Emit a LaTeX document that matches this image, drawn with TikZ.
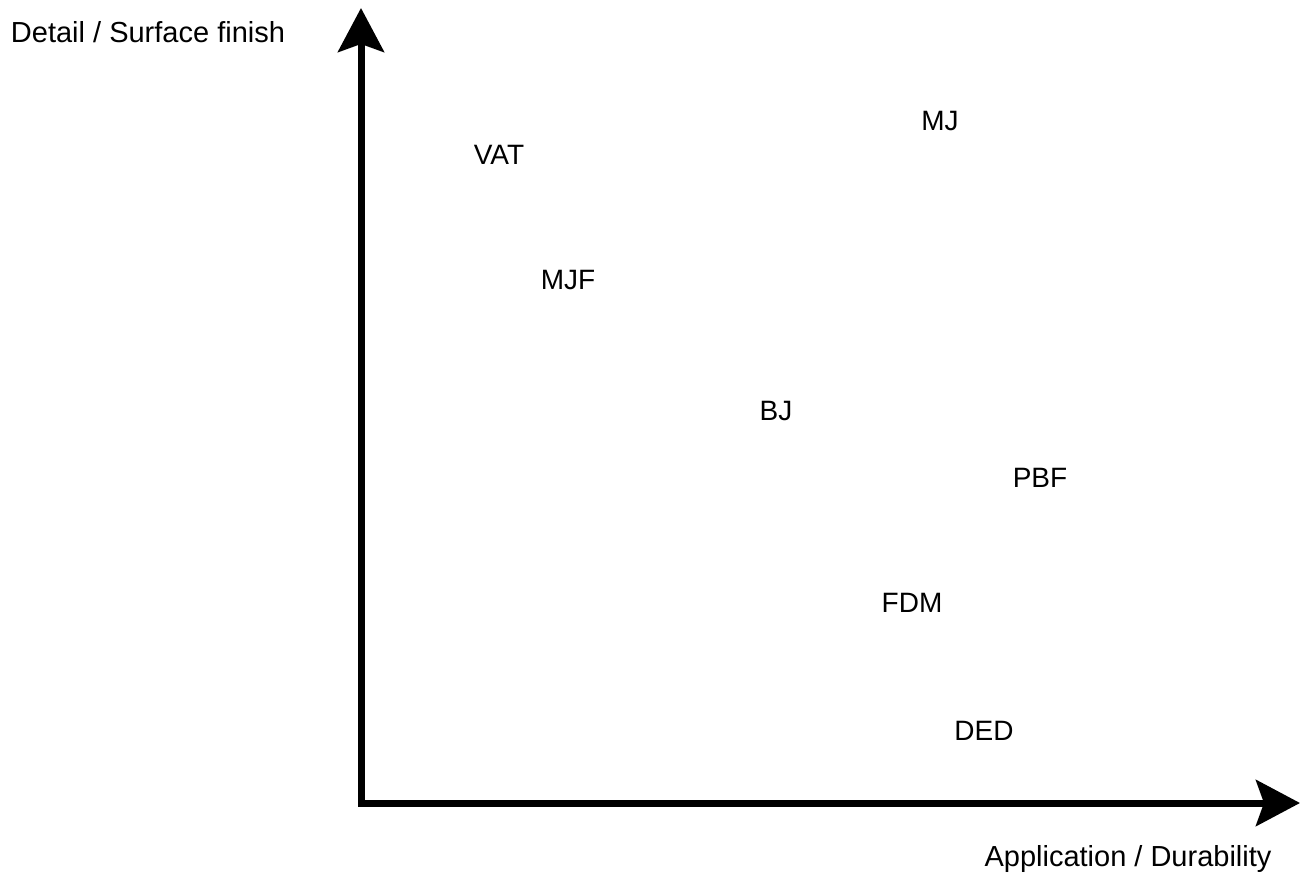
\documentclass[tikz,border=0pt]{standalone}
\usepackage{fontspec}
\setmainfont{Liberation Sans}
\usetikzlibrary{arrows.meta}
\begin{document}
\begin{tikzpicture}[x=1pt,y=-1pt,
  axis/.style={line width=7pt, line join=miter,
    arrows={Stealth[length=44pt,width=46pt,inset=8pt]-Stealth[length=44pt,width=46pt,inset=8pt]}},
  axislabel/.style={font=\fontsize{29}{34}\selectfont, inner sep=0pt, anchor=base},
  method/.style={font=\fontsize{28}{33}\selectfont, inner sep=0pt}]
  \useasboundingbox[fill=white] (0,0) rectangle (1304,875);

  % axes
  \coordinate (xend) at (1300,803);
  \coordinate (origin) at (361,803);
  \coordinate (yend) at (361,8);
  \draw[axis] (xend) -- (origin) -- (yend);

  % axis titles
  \node[axislabel] (ylab) at (148,43) {Detail / Surface finish};
  \node[axislabel] (xlab) at (1128,866) {Application / Durability};

  % process families
  \node[method] (vat) at (499,155) {VAT};
  \node[method] (mjf) at (568,280) {MJF};
  \node[method] (mj)  at (940,121) {MJ};
  \node[method] (bj)  at (776,411) {BJ};
  \node[method] (pbf) at (1040,478) {PBF};
  \node[method] (fdm) at (912,603) {FDM};
  \node[method] (ded) at (984,731) {DED};
\end{tikzpicture}
\end{document}
